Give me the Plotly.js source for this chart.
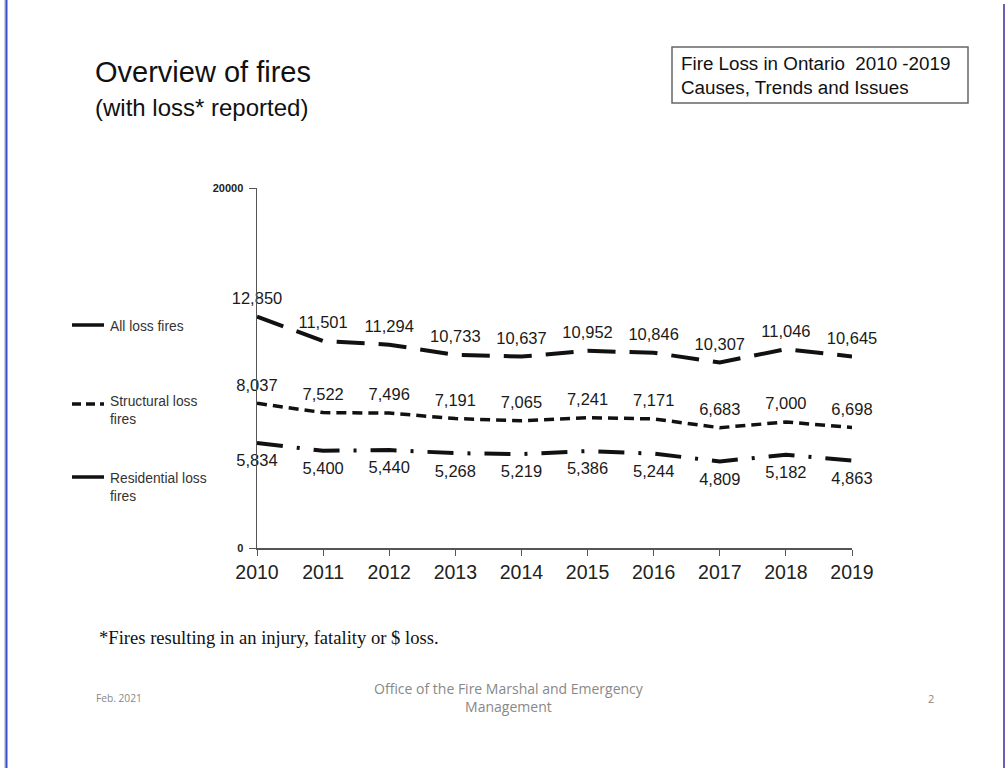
<!DOCTYPE html>
<html>
<head>
<meta charset="utf-8">
<script src="https://cdn.plot.ly/plotly-3.0.1.min.js"></script>
<style>
html,body{margin:0;padding:0;background:#fff;}
#chart{width:1008px;height:768px;}
</style>
</head>
<body>
<div id="chart"></div>
<script>
const years = [2010, 2011, 2012, 2013, 2014, 2015, 2016, 2017, 2018, 2019];
const allLoss = [12850, 11501, 11294, 10733, 10637, 10952, 10846, 10307, 11046, 10645];
const structuralLoss = [8037, 7522, 7496, 7191, 7065, 7241, 7171, 6683, 7000, 6698];
const residentialLoss = [5834, 5400, 5440, 5268, 5219, 5386, 5244, 4809, 5182, 4863];
const seriesNames = ["All loss fires", "Structural loss<br>fires", "Residential loss<br>fires"];
const yTicks = [0, 20000];

const L = 257, R = 852, T = 188, B = 548;
const W = 1008, H = 768;
const px = x => (x - L) / (R - L);
const py = y => (B - y) / (B - T);

const labelFont = {family: "Liberation Sans, Arial, sans-serif", size: 16.5, color: "#1a1a1a"};
const hiddenMarker = {size: 12, color: "rgba(0,0,0,0)"};

const traces = [
  {x: years, y: allLoss, name: seriesNames[0], mode: "lines+markers+text", texttemplate: "%{y:,}",
   textposition: "top center", textfont: labelFont, cliponaxis: false, marker: hiddenMarker,
   line: {color: "#111", width: 4, dash: "28px,14px"}},
  {x: years, y: structuralLoss, name: seriesNames[1], mode: "lines+markers+text", texttemplate: "%{y:,}",
   textposition: "top center", textfont: labelFont, cliponaxis: false, marker: hiddenMarker,
   line: {color: "#111", width: 3.5, dash: "10px,6px"}},
  {x: years, y: residentialLoss, name: seriesNames[2], mode: "lines+markers+text", texttemplate: "%{y:,}",
   textposition: "bottom center", textfont: labelFont, cliponaxis: false, marker: {size: 16, color: "rgba(0,0,0,0)"},
   line: {color: "#111", width: 4, dash: "26px,14px,3px,14px"}}
];

const ann = [];
const shapes = [];
// Title
ann.push({text: "Overview of fires", xref: "paper", yref: "paper", x: px(93), y: py(72), xanchor: "left", yanchor: "middle",
  showarrow: false, font: {family: "Liberation Sans, Arial, sans-serif", size: 29, color: "#111"}});
ann.push({text: "(with loss* reported)", xref: "paper", yref: "paper", x: px(93), y: py(108), xanchor: "left", yanchor: "middle",
  showarrow: false, font: {family: "Liberation Sans, Arial, sans-serif", size: 24, color: "#111"}});
// Top-right box
shapes.push({type: "rect", xref: "paper", yref: "paper", x0: px(672), x1: px(968), y0: py(47), y1: py(103),
  line: {color: "#666", width: 1.5}, fillcolor: "rgba(0,0,0,0)"});
ann.push({text: "Fire Loss in Ontario  2010 -2019<br>Causes, Trends and Issues", xref: "paper", yref: "paper",
  x: px(679), y: py(75), xanchor: "left", yanchor: "middle", align: "left", showarrow: false,
  font: {family: "Liberation Sans, Arial, sans-serif", size: 18.8, color: "#111"}});
// Legend (custom)
const legTextY = [325, 400, 477];
const legLineY = [325, 404, 477];
const legDash = ["solid", "9px,5px", "solid"];
for (let i = 0; i < 3; i++) {
  shapes.push({type: "line", xref: "paper", yref: "paper", x0: px(72), x1: px(104), y0: py(legLineY[i]), y1: py(legLineY[i]),
    line: {color: "#111", width: 3.5, dash: legDash[i]}});
  ann.push({text: seriesNames[i], xref: "paper", yref: "paper", x: px(108), y: py(legTextY[i] - 8), xanchor: "left", yanchor: "top",
    align: "left", showarrow: false, font: {family: "Liberation Sans, Arial, sans-serif", size: 13.8, color: "#333"}});
}
// Footnote
ann.push({text: "*Fires resulting in an injury, fatality or $ loss.", xref: "paper", yref: "paper", x: px(97), y: py(637),
  xanchor: "left", yanchor: "middle", showarrow: false, font: {family: "Liberation Serif, Times New Roman, serif", size: 18.6, color: "#111"}});
// Footer
const footColor = "#888";
ann.push({text: "Feb. 2021", xref: "paper", yref: "paper", x: px(94), y: py(698), xanchor: "left", yanchor: "middle", showarrow: false,
  font: {family: "Open Sans, Liberation Sans, sans-serif", size: 10.2, color: footColor}});
ann.push({text: "Office of the Fire Marshal and Emergency<br>Management", xref: "paper", yref: "paper", x: px(509), y: py(697),
  xanchor: "center", yanchor: "middle", align: "center", showarrow: false,
  font: {family: "Open Sans, Liberation Sans, sans-serif", size: 14, color: footColor}});
ann.push({text: "2", xref: "paper", yref: "paper", x: px(931), y: py(698), xanchor: "center", yanchor: "middle", showarrow: false,
  font: {family: "Open Sans, Liberation Sans, sans-serif", size: 11, color: footColor}});
// Page borders
shapes.push({type: "line", xref: "paper", yref: "paper", x0: px(5), x1: px(5), y0: py(0), y1: py(768), line: {color: "#9aa3c8", width: 1}});
shapes.push({type: "line", xref: "paper", yref: "paper", x0: px(6.5), x1: px(6.5), y0: py(0), y1: py(768), line: {color: "#3b4fc4", width: 2}});
shapes.push({type: "line", xref: "paper", yref: "paper", x0: px(1004), x1: px(1004), y0: py(4), y1: py(768), line: {color: "#6a5fb8", width: 2}});

const layout = {
  width: W, height: H,
  margin: {l: L, r: W - R, t: T, b: H - B, pad: 0},
  paper_bgcolor: "#fff", plot_bgcolor: "#fff",
  showlegend: false,
  xaxis: {type: "linear", range: [2010, 2019], tickvals: years, ticktext: years.map(String),
    showgrid: false, zeroline: false, showline: true, linecolor: "#555", linewidth: 1.5,
    ticks: "outside", ticklen: 6, tickcolor: "#555", tickwidth: 1,
    tickfont: {family: "Liberation Sans, Arial, sans-serif", size: 19.5, color: "#222"}},
  yaxis: {range: [0, 20000], tickvals: yTicks, ticktext: yTicks.map(String),
    showgrid: false, zeroline: false, showline: true, linecolor: "#555", linewidth: 1.5,
    ticks: "outside", ticklen: 7, tickcolor: "#555", ticklabelstandoff: 3,
    tickfont: {family: "Liberation Sans, Arial, sans-serif", size: 11, color: "#222", weight: "bold"}},
  annotations: ann,
  shapes: shapes
};

Plotly.newPlot("chart", traces, layout, {staticPlot: true, displayModeBar: false});
</script>
</body>
</html>
